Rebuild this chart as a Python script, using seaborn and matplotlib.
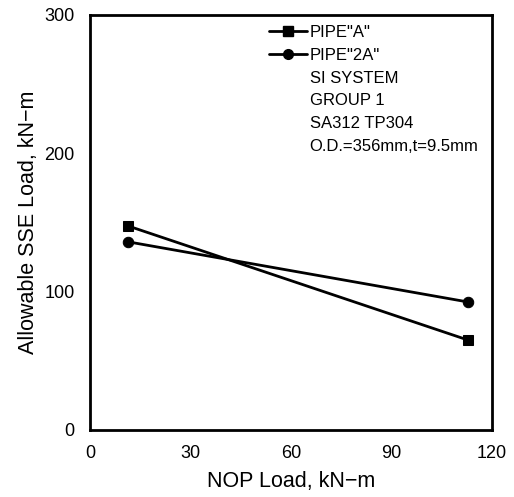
import pandas as pd
import seaborn as sns
import matplotlib.pyplot as plt
from matplotlib.lines import Line2D

nop_load = [11.3, 112.8]
pipe_a = [147.5, 65]
pipe_2a = [136, 92.5]
series_names = ['PIPE"A"', 'PIPE"2A"']
notes = ["SI SYSTEM", "GROUP 1", "SA312 TP304", "O.D.=356mm,t=9.5mm"]

df = pd.DataFrame({
    "nop": nop_load * 2,
    "sse": pipe_a + pipe_2a,
    "pipe": [series_names[0]] * 2 + [series_names[1]] * 2,
})

sns.set_style("white")
plt.rcParams["font.family"] = ["Liberation Sans", "DejaVu Sans"]
plt.rcParams["text.color"] = "black"
plt.rcParams["axes.labelcolor"] = "black"
plt.rcParams["xtick.color"] = "black"
plt.rcParams["ytick.color"] = "black"

fig = plt.figure(figsize=(5.14, 4.97), dpi=100)
ax = fig.add_axes([0.175, 0.135, 0.782, 0.835])

sns.lineplot(data=df, x="nop", y="sse", style="pipe",
             markers={series_names[0]: "s", series_names[1]: "o"},
             dashes=False, color="black", linewidth=2, markersize=7.5,
             markeredgecolor="black", ax=ax, legend=False)

ax.set_xlim(0, 120)
ax.set_ylim(0, 300)
ax.set_xticks([0, 30, 60, 90, 120])
ax.set_yticks([0, 100, 200, 300])
ax.tick_params(labelsize=13, length=0, pad=11)
for s in ax.spines.values():
    s.set_linewidth(2)
    s.set_color("black")
ax.set_xlabel("NOP Load, kN\u2212m", fontsize=15.5, labelpad=6)
ax.set_ylabel("Allowable SSE Load, kN\u2212m", fontsize=15.5, labelpad=4)

handles = [Line2D([], [], color="black", marker="s", lw=2, ms=7),
           Line2D([], [], color="black", marker="o", lw=2, ms=7)]
handles += [Line2D([], [], linestyle="none") for _ in notes]
ax.legend(handles, series_names + notes, loc="upper left",
          bbox_to_anchor=(0.42, 1.0), frameon=False, fontsize=12,
          borderpad=0.1, handlelength=2.3, handletextpad=0.15,
          labelspacing=0.47)

fig.savefig("out.png", dpi=100)
